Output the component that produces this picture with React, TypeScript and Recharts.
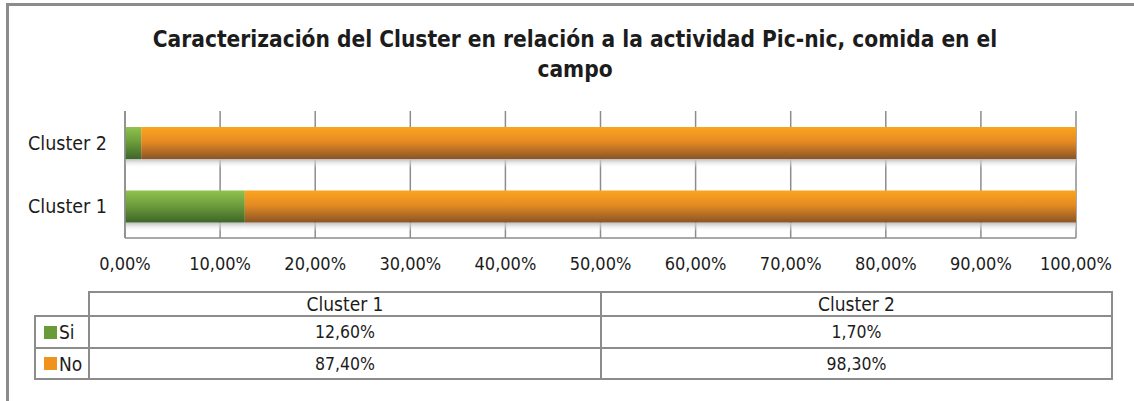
import { BarChart, Bar, XAxis, YAxis, CartesianGrid } from 'recharts'

const clusters = ['Cluster 1', 'Cluster 2']
const seriesNames = ['Si', 'No']
const siValues = [0.126, 0.017]
const noValues = [0.874, 0.983]
const siLabels = ['12,60%', '1,70%']
const noLabels = ['87,40%', '98,30%']
const xTicks = [0, 0.1, 0.2, 0.3, 0.4, 0.5, 0.6, 0.7, 0.8, 0.9, 1]

const FONT = "'DejaVu Sans Condensed', 'DejaVu Sans', sans-serif"
const TEXT = '#1c1c1c'
const LINE = '#8c8c8c'

const data = clusters.map((c, i) => ({ cluster: c, si: siValues[i], no: noValues[i] }))

const fmtPct = (v: number) => (v * 100).toFixed(2).replace('.', ',') + '%'

function ShadowBar(props: any) {
  const { x, y, width, height, fill } = props
  if (!width || width <= 0) return null
  return (
    <g>
      <rect x={x} y={y + height} width={width} height={9} fill="url(#barShadow)" />
      <rect x={x} y={y} width={width} height={height} fill={fill} />
    </g>
  )
}

const colX = [35, 89, 601, 1112]
const rowY = [292, 316, 348, 379]

function Cell({ x0, x1, y0, y1, children, align = 'center', size = 17.5 }: any) {
  return (
    <div
      style={{
        position: 'absolute',
        left: x0 - 1,
        top: y0 - 1,
        width: x1 - x0 + 2,
        height: y1 - y0 + 2,
        border: `2px solid ${LINE}`,
        boxSizing: 'border-box',
        display: 'flex',
        alignItems: 'center',
        justifyContent: align,
        paddingLeft: align === 'center' ? 0 : 6,
        fontFamily: FONT,
        fontSize: size,
        color: TEXT,
        background: '#fff',
      }}
    >
      {children}
    </div>
  )
}

export default function App() {
  const swatches = ['#6a9b3a', '#f0921e']
  const rows = [siLabels, noLabels]
  return (
    <div style={{ position: 'absolute', left: 0, top: 0, width: 1134, height: 401, background: '#fff', overflow: 'hidden' }}>
      <div style={{ position: 'absolute', left: 6, top: 3, width: 1140, height: 410, borderTop: `3px solid ${LINE}`, borderLeft: `3px solid ${LINE}` }} />
      <div
        style={{
          position: 'absolute',
          left: 80,
          top: 24,
          width: 990,
          textAlign: 'center',
          fontFamily: FONT,
          fontWeight: 'bold',
          fontSize: 22.5,
          lineHeight: '30px',
          color: TEXT,
        }}
      >
        Caracterización del Cluster en relación a la actividad Pic-nic, comida en el
        <br />
        campo
      </div>
      <div style={{ position: 'absolute', left: 0, top: 0 }}>
        <BarChart
          width={1134}
          height={401}
          data={data}
          layout="vertical"
          margin={{ top: 111, right: 58, bottom: 133, left: 15 }}
          barSize={32}
        >
          <defs>
            <linearGradient id="gradSi" x1="0" y1="0" x2="0" y2="1">
              <stop offset="0%" stopColor="#8fc24e" />
              <stop offset="45%" stopColor="#6e9e3c" />
              <stop offset="100%" stopColor="#3d6629" />
            </linearGradient>
            <linearGradient id="gradNo" x1="0" y1="0" x2="0" y2="1">
              <stop offset="0%" stopColor="#faa51e" />
              <stop offset="45%" stopColor="#e68b22" />
              <stop offset="100%" stopColor="#8a5526" />
            </linearGradient>
            <linearGradient id="barShadow" x1="0" y1="0" x2="0" y2="1">
              <stop offset="0%" stopColor="#bdbdbd" />
              <stop offset="100%" stopColor="#ffffff" stopOpacity={0} />
            </linearGradient>
          </defs>
          <CartesianGrid horizontal={false} stroke={LINE} strokeWidth={1.5} />
          <XAxis
            type="number"
            domain={[0, 1]}
            ticks={xTicks}
            tickFormatter={fmtPct}
            axisLine={{ stroke: LINE, strokeWidth: 1.5 }}
            tickLine={false}
            tickMargin={13}
            height={30}
            tick={{ fill: TEXT, fontSize: 18, fontFamily: FONT }}
            interval={0}
          />
          <YAxis
            type="category"
            dataKey="cluster"
            reversed
            width={110}
            axisLine={{ stroke: LINE, strokeWidth: 1.5 }}
            tickLine={false}
            tickMargin={12}
            tick={{ fill: TEXT, fontSize: 19.5, fontFamily: FONT }}
          />
          <Bar dataKey="si" name={seriesNames[0]} stackId="a" fill="url(#gradSi)" shape={ShadowBar} isAnimationActive={false} />
          <Bar dataKey="no" name={seriesNames[1]} stackId="a" fill="url(#gradNo)" shape={ShadowBar} isAnimationActive={false} />
        </BarChart>
      </div>
      {clusters.map((c, i) => (
        <Cell key={c} x0={colX[i + 1]} x1={colX[i + 2]} y0={rowY[0]} y1={rowY[1]} size={19}>
          {c}
        </Cell>
      ))}
      {seriesNames.map((s, r) => (
        <div key={s}>
          <Cell x0={colX[0]} x1={colX[1]} y0={rowY[r + 1]} y1={rowY[r + 2]} align="flex-start" size={19}>
            <span style={{ display: 'inline-block', width: 13, height: 13, background: swatches[r], marginRight: 2, marginLeft: 2 }} />
            <span>{s}</span>
          </Cell>
          {clusters.map((c, i) => (
            <Cell key={c} x0={colX[i + 1]} x1={colX[i + 2]} y0={rowY[r + 1]} y1={rowY[r + 2]}>
              {rows[r][i]}
            </Cell>
          ))}
        </div>
      ))}
    </div>
  )
}
